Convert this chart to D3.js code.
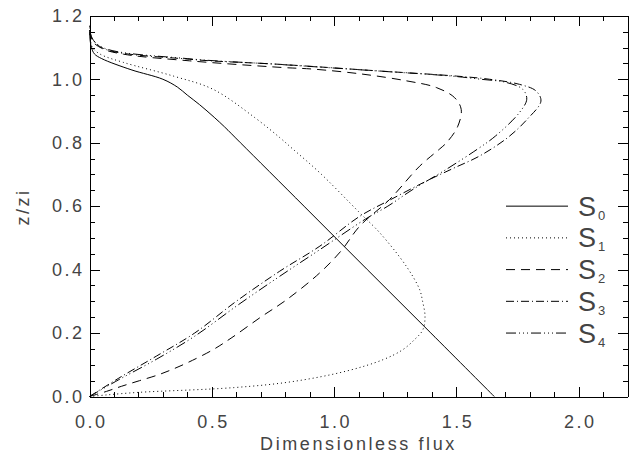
<!DOCTYPE html>
<html><head><meta charset="utf-8">
<script src="https://cdn.jsdelivr.net/npm/d3@7"></script>
<style>
html,body{margin:0;padding:0;background:#fff;}
text{font-family:"Liberation Sans",Arial,sans-serif;fill:#444;}
</style></head>
<body>
<svg id="chart" width="629" height="458"></svg>
<script>
// ---- data (flux, z/zi) ----
const seriesNames = ["0","1","2","3","4"];
const xMajorTicks = [0,0.5,1.0,1.5,2.0];
const yMajorTicks = [0,0.2,0.4,0.6,0.8,1.0,1.2];

const s0z = [0,0.2,0.4,0.6,0.8,0.85,0.88,0.92,0.95,0.975,1.0,1.03,1.065,1.08,1.1,1.12,1.15];
const s0f = [1.655,1.396,1.136,0.877,0.617,0.552,0.51,0.45,0.40,0.36,0.30,0.17,0.05,0.02,0.008,0.003,0];

const s1z = [0,0.005,0.013,0.028,0.047,0.08,0.116,0.147,0.18,0.21,0.253,0.3,0.337,0.41,0.516,0.579,0.705,0.779,0.816,0.879,0.968,1.01,1.053,1.079,1.1,1.13,1.16];
const s1f = [0,0.07,0.2,0.59,0.83,1.05,1.2,1.28,1.33,1.363,1.372,1.362,1.35,1.296,1.187,1.105,0.942,0.833,0.778,0.676,0.506,0.343,0.139,0.044,0.012,0.003,0];

const s2z = [0,0.016,0.032,0.05,0.068,0.084,0.107,0.147,0.184,0.25,0.305,0.39,0.46,0.537,0.621,0.726,0.779,0.8,0.85,0.905,0.942,0.974,0.995,1.016,1.032,1.037,1.058,1.079,1.095,1.12,1.16];
const s2f = [0,0.069,0.13,0.205,0.28,0.334,0.402,0.504,0.579,0.70,0.806,0.942,1.03,1.105,1.227,1.35,1.43,1.46,1.505,1.52,1.493,1.418,1.296,1.118,0.914,0.79,0.41,0.139,0.057,0.012,0];

const s3z = [0,0.058,0.128,0.2,0.3,0.395,0.474,0.568,0.62,0.68,0.72,0.758,0.816,0.874,0.931,0.963,0.984,1.0,1.01,1.026,1.047,1.063,1.097,1.13,1.17];
const s3f = [0,0.12,0.275,0.43,0.60,0.778,0.942,1.105,1.23,1.38,1.49,1.595,1.71,1.79,1.846,1.826,1.758,1.636,1.5,1.187,0.778,0.41,0.057,0.01,0];

const s4z = [0,0.053,0.118,0.19,0.29,0.379,0.463,0.56,0.6,0.653,0.716,0.779,0.821,0.895,0.937,0.968,0.99,1.0,1.01,1.026,1.047,1.065,1.099,1.13,1.17];
const s4f = [0,0.12,0.275,0.43,0.61,0.778,0.942,1.13,1.22,1.323,1.459,1.585,1.66,1.758,1.788,1.772,1.704,1.6,1.48,1.18,0.77,0.40,0.057,0.01,0];

const seriesZ = [s0z,s1z,s2z,s3z,s4z];
const seriesF = [s0f,s1f,s2f,s3f,s4f];
const dashes = [null,"1,3","9,6","8,3,1,3","10,3,1,3,1,3,1,3"];

// ---- layout ----
const svg = d3.select("#chart");
const L = 89.5, R = 627.5, T = 15.8, B = 396.5;
const x = d3.scaleLinear().domain([0,2.2]).range([L,R]);
const y = d3.scaleLinear().domain([0,1.2]).range([B,T]);

const xMinor = d3.range(0,2.2001,0.1).map(v=>+v.toFixed(2)).filter(v=>!xMajorTicks.some(t=>Math.abs(t-v)<1e-6));
const yMinor = d3.range(0,1.2001,0.05).map(v=>+v.toFixed(3)).filter(v=>!yMajorTicks.some(t=>Math.abs(t-v)<1e-6));

function styleAxis(g){
  g.selectAll("path,line").attr("stroke","#000").attr("stroke-width",1).attr("shape-rendering","crispEdges");
  g.selectAll("text").style("font-size","18px").style("letter-spacing","2.5px").attr("fill","#444");
}
// bottom
svg.append("g").attr("transform",`translate(0,${B})`)
  .call(d3.axisBottom(x).tickValues(xMajorTicks).tickFormat(d3.format(".1f")).tickSizeInner(-10).tickSizeOuter(0).tickPadding(18.5))
  .call(styleAxis).call(g=>g.selectAll("text").attr("dx","1.2px"));
svg.append("g").attr("transform",`translate(0,${B})`)
  .call(d3.axisBottom(x).tickValues(xMinor).tickFormat("").tickSizeInner(-5).tickSizeOuter(0)).call(styleAxis);
// top
svg.append("g").attr("transform",`translate(0,${T})`)
  .call(d3.axisTop(x).tickValues(xMajorTicks).tickFormat("").tickSizeInner(-10).tickSizeOuter(0)).call(styleAxis);
svg.append("g").attr("transform",`translate(0,${T})`)
  .call(d3.axisTop(x).tickValues(xMinor).tickFormat("").tickSizeInner(-5).tickSizeOuter(0)).call(styleAxis);
// left
svg.append("g").attr("transform",`translate(${L},0)`)
  .call(d3.axisLeft(y).tickValues(yMajorTicks).tickFormat(d3.format(".1f")).tickSizeInner(-10).tickSizeOuter(0).tickPadding(5))
  .call(styleAxis);
svg.append("g").attr("transform",`translate(${L},0)`)
  .call(d3.axisLeft(y).tickValues(yMinor).tickFormat("").tickSizeInner(-5).tickSizeOuter(0)).call(styleAxis);
// right
svg.append("g").attr("transform",`translate(${R},0)`)
  .call(d3.axisRight(y).tickValues(yMajorTicks).tickFormat("").tickSizeInner(-10).tickSizeOuter(0)).call(styleAxis);
svg.append("g").attr("transform",`translate(${R},0)`)
  .call(d3.axisRight(y).tickValues(yMinor).tickFormat("").tickSizeInner(-5).tickSizeOuter(0)).call(styleAxis);

// axis titles
svg.append("text").attr("x",(L+R)/2 - 0).attr("y",450).attr("text-anchor","middle")
  .style("font-size","18px").style("letter-spacing","2.6px").text("Dimensionless flux");
svg.append("text").attr("transform","translate(29,207) rotate(-90)").attr("text-anchor","middle")
  .style("font-size","18px").style("letter-spacing","2.5px").text("z/zi");

// curves
const line = d3.line().x(d=>x(d[0])).y(d=>y(d[1])).curve(d3.curveCatmullRom.alpha(0.5));
seriesZ.forEach((zs,i)=>{
  const pts = zs.map((z,j)=>[seriesF[i][j], z]);
  svg.append("path").datum(pts).attr("d",line)
    .attr("fill","none").attr("stroke","#000").attr("stroke-width",1)
    .attr("stroke-dasharray",dashes[i]);
});

// legend
const legY = d3.scaleLinear().domain([0,4]).range([y(0.6), y(0.2)]);
seriesNames.forEach((n,i)=>{
  const yy = legY(i);
  svg.append("line").attr("x1",506).attr("x2",568).attr("y1",yy).attr("y2",yy)
    .attr("stroke","#000").attr("stroke-width",1).attr("stroke-dasharray",dashes[i]);
  const t = svg.append("text").attr("x",578).attr("y",yy+9.5).style("font-size","27px").style("font-weight","300");
  t.append("tspan").text("S");
  t.append("tspan").attr("dx","2").attr("dy","4").style("font-size","13px").text(n);
});
</script>
</body></html>
